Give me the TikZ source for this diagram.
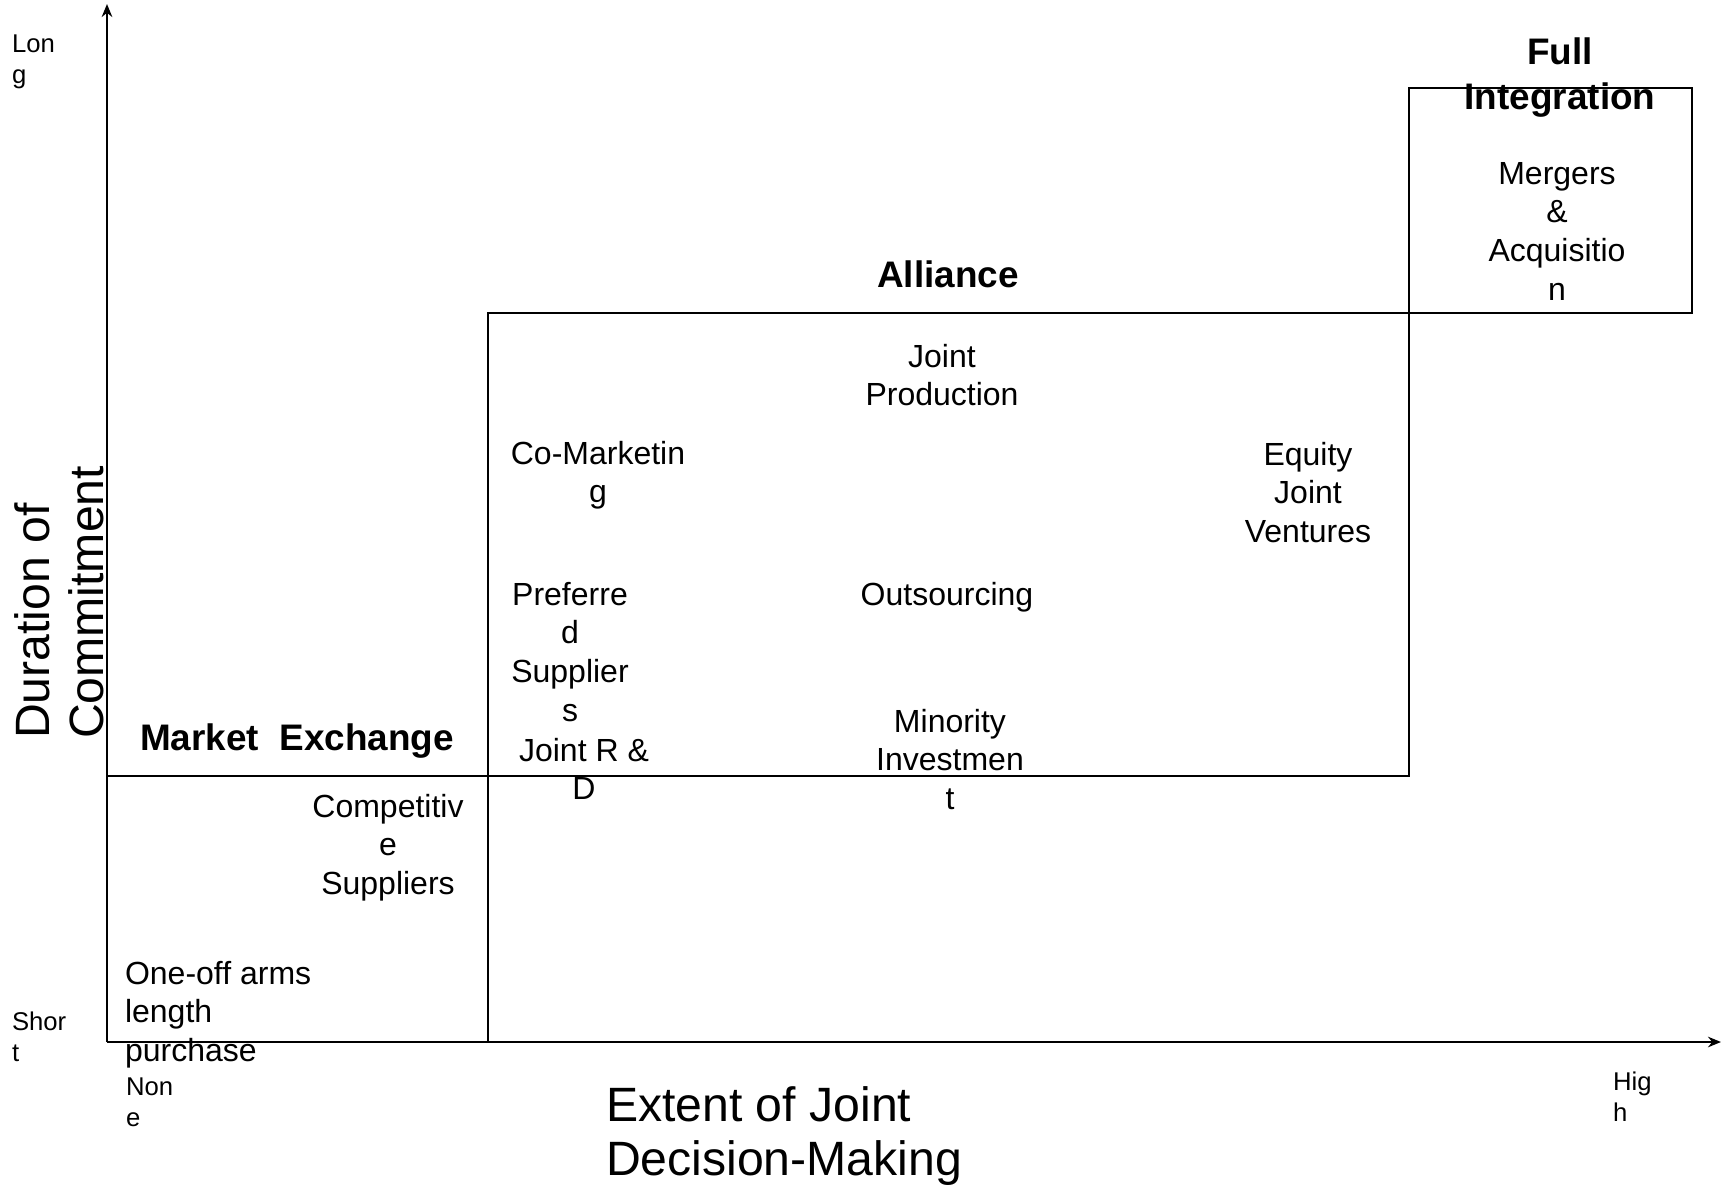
\documentclass[tikz,border=0pt]{standalone}
\usepackage{fontspec}
\setmainfont{Liberation Sans}
\usetikzlibrary{arrows.meta,positioning}

\tikzset{
    smalltxt/.style={inner sep=0pt, align=left, font=\fontsize{7.3}{8.8}\selectfont},
    bodytxt/.style={inner sep=0pt, align=center, font=\fontsize{9.1}{11}\selectfont},
    headtxt/.style={inner sep=0pt, align=center, font=\bfseries\fontsize{10.5}{12.8}\selectfont},
    axistxt/.style={inner sep=0pt, align=left, font=\fontsize{13.7}{15.2}\selectfont},
    axisline/.style={line width=0.7pt, -{Stealth[length=3.7pt,width=3pt]}}
}

\begin{document}
\begin{tikzpicture}[x=0.01cm, y=-0.01cm, line width=0.6pt]
    \useasboundingbox (0,0) rectangle (1729,1187);

    % Axes
    \coordinate (O) at (107,1042);
    \coordinate (ytop) at (107,4);
    \coordinate (xend) at (1721,1042);
    \draw[axisline] (O) -- (ytop);
    \draw[axisline] (O) -- (xend);

    % Market Exchange box
    \draw (107,776) -- (488,776) -- (488,1042);

    % Alliance box
    \draw (488,776) -- (488,313) -- (1409,313) -- (1409,776) -- cycle;

    % Full Integration box
    \draw (1409,313) rectangle (1692,88);

    % Axis ends
    \node[smalltxt, anchor=north west] (long) at (11,34) {Lon\\g};
    \node[smalltxt, anchor=north west] (short) at (11,1011) {Shor\\t};
    \node[smalltxt, anchor=north west] (none) at (125,1077) {Non\\e};
    \node[smalltxt, anchor=north west] (high) at (1612,1071) {Hig\\h};

    % Axis labels
    \node[axistxt, anchor=north west] (extent) at (605,1086) {Extent of Joint\\Decision-Making};
    \node[axistxt, anchor=north west, rotate=90] (duration) at (14,740) {Duration of\\Commitment};

    % Market Exchange
    \node[headtxt, anchor=north] (market) at (297,723) {Market\ \ Exchange};
    \node[bodytxt, anchor=north] (compsup) at (388,793) {Competitiv\\e\\Suppliers};
    \node[bodytxt, align=left, anchor=north west] (oneoff) at (124,960) {One-off arms\\length\\purchase};

    % Alliance
    \node[headtxt, anchor=north] (alliance) at (948,260) {Alliance};
    \node[bodytxt, anchor=north] (jointprod) at (942,343) {Joint\\Production};
    \node[bodytxt, anchor=north] (comkt) at (598,440) {Co-Marketin\\g};
    \node[bodytxt, anchor=north] (equity) at (1308,441) {Equity\\Joint\\Ventures};
    \node[bodytxt, anchor=north] (prefsup) at (570,581) {Preferre\\d\\Supplier\\s};
    \node[bodytxt, anchor=north] (outsrc) at (947,581) {Outsourcing};
    \node[bodytxt, anchor=north] (minority) at (950,708) {Minority\\Investmen\\t};
    \node[bodytxt, anchor=north] (jointrd) at (584,737) {Joint R \&\\D};

    % Full Integration
    \node[headtxt, anchor=north] (fullint) at (1560,37) {Full\\Integration};
    \node[bodytxt, anchor=north] (mergers) at (1557,161) {Mergers\\\&\\Acquisitio\\n};
\end{tikzpicture}
\end{document}
